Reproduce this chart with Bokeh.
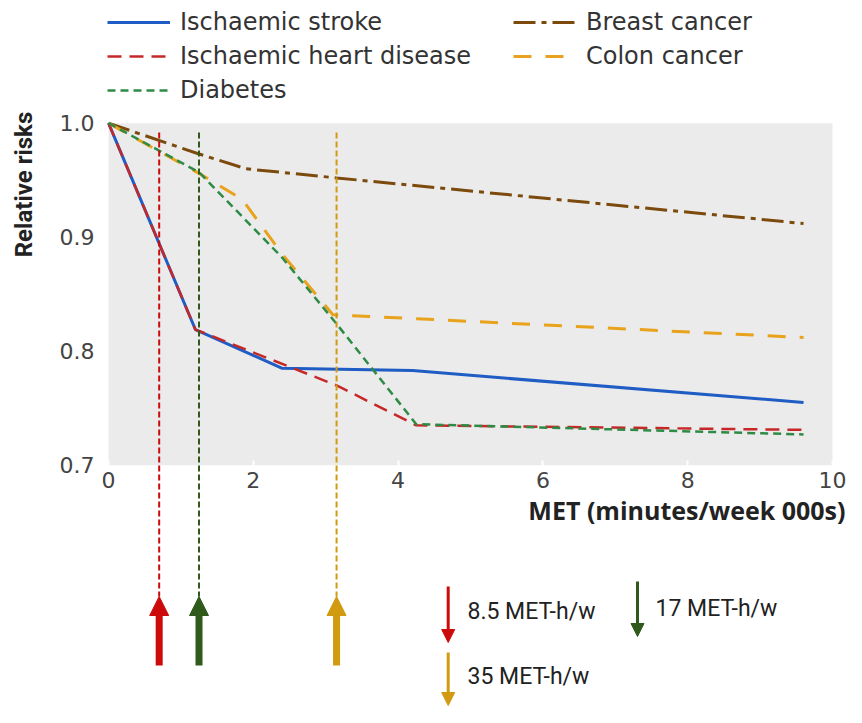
from bokeh.plotting import figure
from bokeh.models import (Range1d, LinearAxis, FixedTicker, Label, Legend, LegendItem,
                          Arrow, NormalHead, BoxAnnotation)
from bokeh.embed import file_html
from bokeh.resources import INLINE

# ---------------- data ----------------
x_ticks = [0, 2, 4, 6, 8, 10]
x_tick_labels = ["0", "2", "4", "6", "8", "10"]
y_ticks = [0.7, 0.8, 0.9, 1.0]
y_tick_labels = ["0.7", "0.8", "0.9", "1.0"]

stroke_x = [0, 1.2, 2.4, 4.2, 9.6]
stroke_y = [1.0, 0.819, 0.785, 0.783, 0.755]

ihd_x = [0, 1.2, 3.15, 4.25, 9.6]
ihd_y = [1.0, 0.819, 0.770, 0.735, 0.731]

diabetes_x = [0, 1.25, 2.4, 3.15, 4.25, 9.6]
diabetes_y = [1.0, 0.957, 0.882, 0.824, 0.736, 0.727]

breast_x = [0, 1.25, 1.9, 3.15, 9.6]
breast_y = [1.0, 0.973, 0.960, 0.952, 0.912]

colon_x = [0, 1.25, 1.85, 2.4, 3.1, 9.6]
colon_y = [1.0, 0.956, 0.933, 0.885, 0.832, 0.812]

threshold_met = [0.7, 1.25, 3.15]
threshold_labels = ["8.5 MET-h/w", "17 MET-h/w", "35 MET-h/w"]

# ---------------- styles ----------------
C_STROKE = "#1f5cc4"
C_IHD = "#c62828"
C_DIAB = "#2e8b45"
C_BREAST = "#7b4a0c"
C_COLON = "#e8a21c"
threshold_colors = ["#cc0a0a", "#2f5a1c", "#d19a10"]

W, H = 846, 707
X_PIX0 = 108.0       # canvas x of x=0
PX_X = 72.4          # pixels per x unit
Y_TOP_PIX = 122.7    # canvas y of y=1.0
PX_Y = 1140.0        # pixels per y unit

x_start = -X_PIX0 / PX_X
x_end = x_start + W / PX_X
y_end = 1.0 + Y_TOP_PIX / PX_Y
y_start = y_end - H / PX_Y


def to_x(px):
    return (px - X_PIX0) / PX_X


def to_y(py):
    return 1.0 - (py - Y_TOP_PIX) / PX_Y


p = figure(width=W, height=H, output_backend="svg", toolbar_location=None,
           x_range=Range1d(x_start, x_end), y_range=Range1d(y_start, y_end),
           x_axis_type=None, y_axis_type=None, min_border=0,
           outline_line_color=None, background_fill_color="white",
           border_fill_color="white")

# gray panel and white gridlines
p.add_layout(BoxAnnotation(left=x_ticks[0], right=x_ticks[-1], bottom=y_ticks[0], top=y_ticks[-1],
                           fill_color="#ebebeb", fill_alpha=1.0, line_color=None, level="underlay"))
inner = y_ticks[1:-1]
p.segment(x0=[x_ticks[0]] * len(inner), x1=[x_ticks[-1]] * len(inner), y0=inner, y1=inner,
          line_color="white", line_width=2.5, level="underlay")

# axes (fixed inside the frame)
yaxis = LinearAxis(fixed_location=x_ticks[0], ticker=FixedTicker(ticks=y_ticks),
                   major_label_overrides={t: l for t, l in zip(y_ticks, y_tick_labels)},
                   axis_line_color=None, major_tick_line_color=None, minor_tick_line_color=None,
                   major_label_text_font="DejaVu Sans", major_label_text_font_size="22px",
                   major_label_text_color="#444444", major_label_standoff=8)
p.add_layout(yaxis, "left")
xaxis = LinearAxis(fixed_location=y_ticks[0], ticker=FixedTicker(ticks=x_ticks),
                   major_label_overrides={t: l for t, l in zip(x_ticks, x_tick_labels)},
                   axis_line_color=None, major_tick_in=5, major_tick_out=0,
                   major_tick_line_color="white", major_tick_line_width=2,
                   minor_tick_line_color=None,
                   major_label_text_font="DejaVu Sans", major_label_text_font_size="22px",
                   major_label_text_color="#444444", major_label_standoff=7)
p.add_layout(xaxis, "below")

# series
r_stroke = p.line(stroke_x, stroke_y, line_color=C_STROKE, line_width=3)
r_breast = p.line(breast_x, breast_y, line_color=C_BREAST, line_width=3, line_dash="22 6 5 6")
r_colon = p.line(colon_x, colon_y, line_color=C_COLON, line_width=3, line_dash="18 14")
r_ihd = p.line(ihd_x, ihd_y, line_color=C_IHD, line_width=2.5, line_dash="14 8")
r_diab = p.line(diabetes_x, diabetes_y, line_color=C_DIAB, line_width=2.5, line_dash="8 5")

# threshold vertical dashed lines and upward arrows
top_y = to_y(132)
tip_y = to_y(596)
base_y = to_y(665)
p.segment(x0=threshold_met, x1=threshold_met, y0=[top_y] * 3, y1=[tip_y] * 3,
          line_color=threshold_colors, line_width=2, line_dash="6 3")
for xm, c in zip(threshold_met, threshold_colors):
    p.add_layout(Arrow(x_start=xm, y_start=base_y, x_end=xm, y_end=tip_y,
                       line_color=c, line_width=7,
                       end=NormalHead(size=19, fill_color=c, line_color=c, line_width=1)))

# notes (key for arrows)
note_pos = [(447.7, 586, 642, 467, 611), (637, 581, 636, 655, 608), (447.7, 652, 705, 467, 676)]
for (ax, ay0, ay1, tx, ty), lab, c in zip(note_pos, threshold_labels, threshold_colors):
    p.add_layout(Arrow(x_start=to_x(ax), y_start=to_y(ay0), x_end=to_x(ax), y_end=to_y(ay1),
                       line_color=c, line_width=3,
                       end=NormalHead(size=13, fill_color=c, line_color=c, line_width=1)))
    p.add_layout(Label(x=to_x(tx), y=to_y(ty), text=lab, text_align="left", text_baseline="middle",
                       text_font="Roboto", text_font_size="23px", text_color="#222222"))

# axis titles
p.add_layout(Label(x=to_x(23), y=to_y(184), text="Relative risks", angle=90, angle_units="deg",
                   text_align="center", text_baseline="middle", text_font="Roboto",
                   text_font_style="bold", text_font_size="24px", text_color="#222222"))
p.add_layout(Label(x=to_x(845), y=to_y(509), text="MET (minutes/week 000s)",
                   text_align="right", text_baseline="middle", text_font="Open Sans",
                   text_font_style="bold", text_font_size="25px", text_color="#222222"))

# legend
legend = Legend(items=[
    LegendItem(label="Ischaemic stroke", renderers=[r_stroke]),
    LegendItem(label="Ischaemic heart disease", renderers=[r_ihd]),
    LegendItem(label="Diabetes", renderers=[r_diab]),
    LegendItem(label="Breast cancer", renderers=[r_breast]),
    LegendItem(label="Colon cancer", renderers=[r_colon]),
], ncols=2, orientation="vertical", location=(107, 603),
    glyph_width=63, glyph_height=24, label_standoff=10, label_width=327, label_height=24,
    spacing=6, padding=0, margin=0, border_line_color=None, background_fill_alpha=0,
    label_text_font="DejaVu Sans", label_text_font_size="24px", label_text_color="#333333")
p.add_layout(legend)

open("out.html", "w").write(file_html(p, INLINE))
